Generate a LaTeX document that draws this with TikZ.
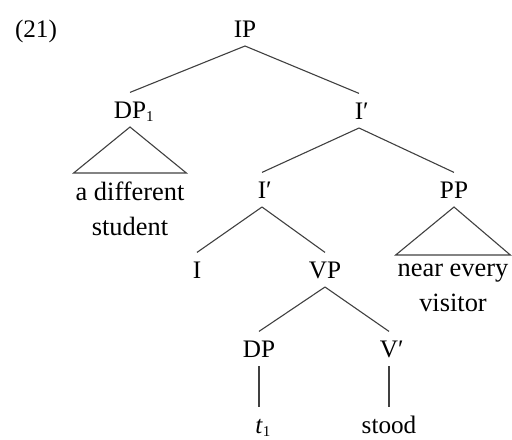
\documentclass[tikz,border=0pt]{standalone}
\usepackage{fontspec}
\setmainfont{Liberation Serif}
\newcommand{\lowidx}[1]{\raisebox{-1.6pt}{\fontsize{7.5}{8}\selectfont #1}}
\begin{document}
\begin{tikzpicture}[x=0.5pt,y=-0.5pt,
  cat/.style={font=\fontsize{12.6}{17.5}\selectfont, inner sep=0pt,
    text height=8.3pt, text depth=0pt, outer xsep=0pt, outer ysep=4.5pt, anchor=base},
  phrase/.style={font=\fontsize{13.2}{17.5}\selectfont,
    align=center, inner sep=0pt, outer xsep=1pt, outer ysep=4.5pt, anchor=north},
  branch/.style={draw=black!75, line width=0.55pt, line join=miter}]
\useasboundingbox (0,0) rectangle (512,439);

% example number
\node[cat, anchor=base west] (num) at (15,37) {(21)};

% category labels
\node[cat] (ip)    at (245,37)  {IP};
\node[cat] (dp1)   at (130,118) {DP\rlap{\lowidx{1}}};
\node[cat] (ib1)   at (359,119) {I\rlap{′}};
\node[cat] (ib2)   at (262,198) {I\rlap{′}};
\node[cat] (pp)    at (454,198) {PP};
\node[cat] (i)     at (197,278) {I};
\node[cat] (vp)    at (325,278) {VP};
\node[cat] (dp)    at (259,357) {DP};
\node[cat] (vb)    at (389,357) {V\rlap{′}};
\node[cat] (t1)    at (259,433) {\textit{t}\rlap{\lowidx{1}}};
\node[cat] (stood) at (389,433) {stood};

% phrases under triangles
\node[phrase] (adiff) at (130,173) {a different\\student};
\node[phrase] (near)  at (453,255) {near every\\visitor};

% branches
\draw[branch] (ip.south)  -- (dp1.north);
\draw[branch] (ip.south)  -- (ib1.north);
\draw[branch] (ib1.south) -- (ib2.north);
\draw[branch] (ib1.south) -- (pp.north);
\draw[branch] (ib2.south) -- (i.north);
\draw[branch] (ib2.south) -- (vp.north);
\draw[branch] (vp.south)  -- (dp.north);
\draw[branch] (vp.south)  -- (vb.north);
\draw[branch] (dp.south)  -- (t1.north);
\draw[branch] (vb.south)  -- (stood.north);

% triangles
\draw[branch] (dp1.south) -- (adiff.north west) -- (adiff.north east) -- cycle;
\draw[branch] (pp.south)  -- (near.north west)  -- (near.north east)  -- cycle;
\end{tikzpicture}
\end{document}
